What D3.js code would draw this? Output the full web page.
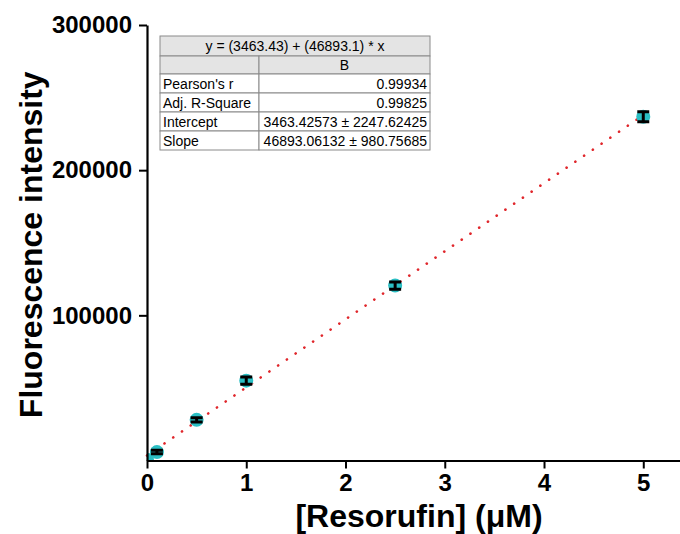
<!DOCTYPE html>
<html>
<head>
<meta charset="utf-8">
<script src="https://cdn.jsdelivr.net/npm/d3@7"></script>
<style>
  body { margin: 0; background: #fff; }
  text { font-family: "Liberation Sans", Arial, sans-serif; }
</style>
</head>
<body>
<svg id="chart" width="680" height="534"></svg>
<script>
const svg = d3.select("#chart");

const width = 680;
const height = 534;
const marginTop = 25;
const marginRight = 0;
const marginBottom = 73;
const marginLeft = 147;

// data
const concentrations = [0, 0.1, 0.5, 1, 2.5, 5];
const intensities = [500, 5800, 28000, 55000, 120500, 236800];
const errors = [600, 1200, 1500, 2500, 2500, 3500];

const xTicks = [0, 1, 2, 3, 4, 5];
const yTicks = [100000, 200000, 300000];

const intercept = 3463.42573;
const slope = 46893.06132;

const tableTitle = "y = (3463.43) + (46893.1) * x";
const tableHeader = ["", "B"];
const tableRows = [
  ["Pearson's r", "0.99934"],
  ["Adj. R-Square", "0.99825"],
  ["Intercept", "3463.42573 \u00b1 2247.62425"],
  ["Slope", "46893.06132 \u00b1 980.75685"]
];

const x = d3.scaleLinear()
    .domain([0, 5.37])
    .range([marginLeft, width - marginRight]);

const y = d3.scaleLinear()
    .domain([0, 300000])
    .range([height - marginBottom - 0.5, marginTop]);

// clip to the plot area
svg.append("clipPath").attr("id", "plot")
  .append("rect")
    .attr("x", x(0)).attr("y", marginTop)
    .attr("width", width - x(0)).attr("height", y(0) - marginTop);

// fit line
svg.append("line")
    .attr("x1", x(0)).attr("y1", y(intercept))
    .attr("x2", x(5)).attr("y2", y(intercept + slope * 5))
    .attr("stroke", "#e0262b")
    .attr("stroke-width", 2.6)
    .attr("stroke-linecap", "round")
    .attr("stroke-dasharray", "0.1 10.5");

// points
const pts = svg.append("g").attr("clip-path", "url(#plot)");
concentrations.forEach((c, i) => {
  const cx = x(c), cy = y(intensities[i]);
  pts.append("circle")
      .attr("cx", cx).attr("cy", cy).attr("r", 7)
      .attr("fill", "#2bbfc4");
  if (i === 0) return;
  const top = y(intensities[i] + errors[i]);
  const bot = y(intensities[i] - errors[i]);
  pts.append("line")
      .attr("x1", cx).attr("x2", cx).attr("y1", top).attr("y2", bot)
      .attr("stroke", "#000").attr("stroke-width", 3);
  [top, bot].forEach(v => {
    pts.append("line")
        .attr("x1", cx - 6).attr("x2", cx + 6).attr("y1", v).attr("y2", v)
        .attr("stroke", "#000").attr("stroke-width", 3);
  });
});

// x axis
const xAxis = svg.append("g")
    .attr("transform", `translate(0,${y(0)})`)
    .call(d3.axisBottom(x).tickValues(xTicks).tickFormat(d3.format("d")).tickSize(8).tickSizeOuter(0).tickPadding(5));
xAxis.select(".domain").attr("stroke-width", 2.2).attr("stroke", "#000");
xAxis.selectAll(".tick line").attr("stroke-width", 2);
xAxis.selectAll(".tick text")
    .attr("font-size", 24).attr("font-weight", "bold").attr("fill", "#000");

// y axis
const yAxis = svg.append("g")
    .attr("transform", `translate(${x(0)},0)`)
    .call(d3.axisLeft(y).tickValues(yTicks).tickFormat(d3.format("d")).tickSize(8).tickSizeOuter(0).tickPadding(7));
yAxis.select(".domain").attr("stroke-width", 2.2).attr("stroke", "#000");
yAxis.selectAll(".tick line").attr("stroke-width", 2);
yAxis.selectAll(".tick text")
    .attr("font-size", 24).attr("font-weight", "bold").attr("fill", "#000");

// axis titles
svg.append("text")
    .attr("x", 419).attr("y", 527)
    .attr("text-anchor", "middle")
    .attr("font-size", 32).attr("font-weight", "bold")
    .text("[Resorufin] (\u03bcM)");

svg.append("text")
    .attr("transform", `translate(42,${(marginTop + y(0)) / 2 + 2}) rotate(-90)`)
    .attr("text-anchor", "middle")
    .attr("font-size", 32).attr("font-weight", "bold")
    .text("Fluorescence intensity");

// stats table
const tX = 160, tW = 270, col = 259;
const rowH = [20, 18, 19, 19, 19, 19];
const rowY = [36];
rowH.forEach((h, i) => rowY.push(rowY[i] + h));
const table = svg.append("g");

table.append("rect").attr("x", tX).attr("y", rowY[0]).attr("width", tW).attr("height", rowH[0])
    .attr("fill", "#e4e4e4").attr("stroke", "#8a8a8a");
table.append("text").attr("x", tX + tW / 2).attr("y", rowY[0] + 15)
    .attr("text-anchor", "middle").attr("font-size", 14).text(tableTitle);

[[tX, col - tX], [col, tX + tW - col]].forEach(([cx0, w]) => {
  table.append("rect").attr("x", cx0).attr("y", rowY[1]).attr("width", w).attr("height", rowH[1])
      .attr("fill", "#e4e4e4").attr("stroke", "#8a8a8a");
});
table.append("text").attr("x", (col + tX + tW) / 2).attr("y", rowY[1] + 14)
    .attr("text-anchor", "middle").attr("font-size", 14).text(tableHeader[1]);

tableRows.forEach((r, i) => {
  const ry = rowY[i + 2], h = rowH[i + 2];
  table.append("rect").attr("x", tX).attr("y", ry).attr("width", col - tX).attr("height", h)
      .attr("fill", "#fff").attr("stroke", "#8a8a8a");
  table.append("rect").attr("x", col).attr("y", ry).attr("width", tX + tW - col).attr("height", h)
      .attr("fill", "#fff").attr("stroke", "#8a8a8a");
  table.append("text").attr("x", tX + 3).attr("y", ry + 14.5)
      .attr("font-size", 14).text(r[0]);
  table.append("text").attr("x", tX + tW - 3).attr("y", ry + 14.5)
      .attr("text-anchor", "end").attr("font-size", 14).text(r[1]);
});
</script>
</body>
</html>
